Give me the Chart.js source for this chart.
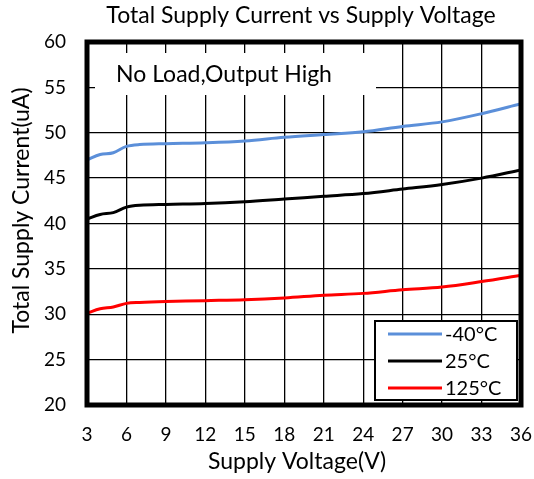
<!DOCTYPE html>
<html>
<head>
<meta charset="utf-8">
<script src="https://cdn.jsdelivr.net/npm/chart.js@4.4.0/dist/chart.umd.min.js"></script>
<style>
  html, body { margin: 0; padding: 0; background: #fff; }
  #wrap { width: 534px; height: 479px; }
</style>
</head>
<body>
<div id="wrap"><canvas id="currentChart" width="534" height="479"></canvas></div>
<script>
// supply voltage (V)
const voltages = [3, 4, 5, 6, 7, 9, 12, 15, 18, 21, 24, 27, 30, 33, 36];
// supply current (uA) per temperature
const currentM40 = [47.0, 47.6, 47.8, 48.5, 48.7, 48.8, 48.9, 49.1, 49.5, 49.8, 50.1, 50.7, 51.2, 52.1, 53.2];
const current25 = [40.5, 41.0, 41.2, 41.8, 42.0, 42.1, 42.2, 42.4, 42.7, 43.0, 43.3, 43.8, 44.3, 45.0, 45.9];
const current125 = [30.1, 30.6, 30.8, 31.2, 31.3, 31.4, 31.5, 31.6, 31.8, 32.1, 32.3, 32.7, 33.0, 33.6, 34.3];
const seriesLabels = ['-40°C', '25°C', '125°C'];
const seriesColors = ['#5b8fd9', '#000000', '#ff0000'];
const chartTitle = 'Total Supply Current vs Supply Voltage';
const xTitle = 'Supply Voltage(V)';
const yTitle = 'Total Supply Current(uA)';
const noteText = 'No Load,Output High';

const fontFamily = 'Lato, "Open Sans", sans-serif';

function toPoints(ys) {
    return voltages.map((v, i) => ({ x: v, y: ys[i] }));
}

// titles, note box, legend box and thick frame
const overlayPlugin = {
    id: 'overlay',
    afterDatasetsDraw(chart) {
        const c = chart.ctx;
        const a = chart.chartArea;
        c.save();
        c.textBaseline = 'middle';
        c.fillStyle = '#000';
        c.font = '23px ' + fontFamily;
        c.textAlign = 'center';

        // chart title and axis titles
        c.fillText(chartTitle, (a.left + a.right) / 2 - 3, 16);
        c.fillText(xTitle, (a.left + a.right) / 2 - 7, 462);
        c.save();
        c.translate(22, (a.top + a.bottom) / 2 - 13);
        c.rotate(-Math.PI / 2);
        c.fillText(yTitle, 0, 0);
        c.restore();

        // note
        c.textAlign = 'left';
        c.fillStyle = '#fff';
        c.fillRect(a.left + 8, a.top + 11, 281, 42);
        c.fillStyle = '#000';
        c.fillText(noteText, a.left + 29, a.top + 33);

        // legend
        const lx = a.left + 288, ly = a.top + 279;
        const lw = a.right - 4 - lx, lh = a.bottom - 5 - ly;
        c.fillStyle = '#fff';
        c.fillRect(lx, ly, lw, lh);
        c.strokeStyle = '#000';
        c.lineWidth = 2;
        c.strokeRect(lx, ly, lw, lh);
        c.font = '20px ' + fontFamily;
        chart.data.datasets.forEach((ds, i) => {
            const yy = ly + 13 + i * 27;
            c.strokeStyle = ds.borderColor;
            c.lineWidth = 3;
            c.beginPath();
            c.moveTo(lx + 13, yy);
            c.lineTo(lx + 67, yy);
            c.stroke();
            c.fillStyle = '#000';
            c.fillText(ds.label, lx + 70, yy + 1);
        });

        // thick frame
        c.strokeStyle = '#000';
        c.lineWidth = 5;
        c.strokeRect(a.left, a.top, a.right - a.left, a.bottom - a.top);
        c.restore();
    }
};

const ctx = document.getElementById('currentChart').getContext('2d');
let currentChart = new Chart(ctx, {
    type: 'line',
    data: {
        datasets: [
            { label: seriesLabels[0], data: toPoints(currentM40), borderColor: seriesColors[0] },
            { label: seriesLabels[1], data: toPoints(current25), borderColor: seriesColors[1] },
            { label: seriesLabels[2], data: toPoints(current125), borderColor: seriesColors[2] }
        ]
    },
    options: {
        responsive: false,
        animation: false,
        layout: { padding: { left: 0, right: 13, top: 42, bottom: 0 } },
        elements: {
            line: { borderWidth: 3, tension: 0.35, fill: false },
            point: { radius: 0 }
        },
        plugins: {
            legend: { display: false },
            tooltip: { enabled: false },
            title: { display: false }
        },
        scales: {
            x: {
                type: 'linear',
                min: 3,
                max: 36,
                afterFit(scale) {
                    scale.height = 74;
                    scale.paddingLeft = 0;
                    scale.paddingRight = 0;
                },
                ticks: { stepSize: 3, color: '#000', font: { family: fontFamily, size: 19 }, padding: 18, maxRotation: 0 },
                grid: { color: '#000', lineWidth: 1.3, drawTicks: false },
                border: { display: false }
            },
            y: {
                min: 20,
                max: 60,
                afterFit(scale) {
                    scale.width = 87;
                    scale.paddingTop = 0;
                    scale.paddingBottom = 0;
                },
                ticks: { stepSize: 5, color: '#000', font: { family: fontFamily, size: 19 }, padding: 21 },
                grid: { color: '#000', lineWidth: 1.3, drawTicks: false },
                border: { display: false }
            }
        }
    },
    plugins: [overlayPlugin]
});
</script>
</body>
</html>
